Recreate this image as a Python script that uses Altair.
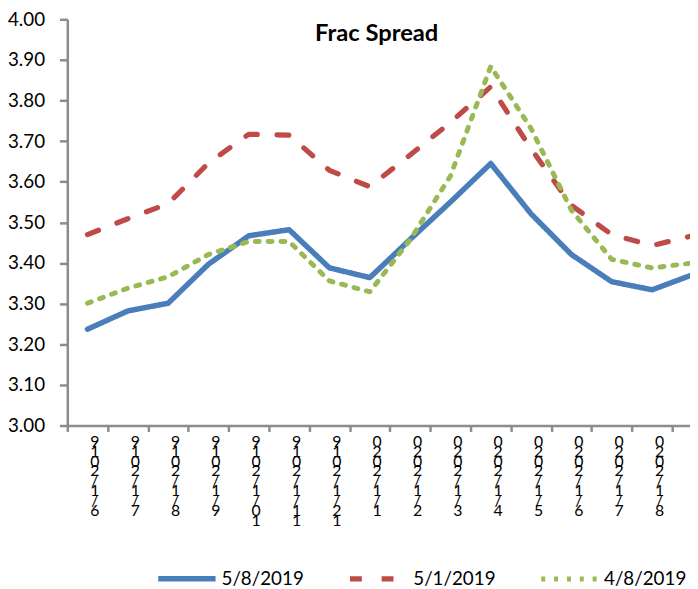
import altair as alt
import pandas as pd

months = ["6/1/2019", "7/1/2019", "8/1/2019", "9/1/2019", "10/1/2019", "11/1/2019",
          "12/1/2019", "1/1/2020", "2/1/2020", "3/1/2020", "4/1/2020", "5/1/2020",
          "6/1/2020", "7/1/2020", "8/1/2020", "9/1/2020"]
s_0508 = [3.237, 3.282, 3.301, 3.397, 3.467, 3.482, 3.388, 3.364, 3.458, 3.550,
          3.645, 3.521, 3.421, 3.354, 3.334, 3.371]
s_0501 = [3.470, 3.509, 3.546, 3.646, 3.717, 3.715, 3.628, 3.588, 3.666, 3.746,
          3.834, 3.681, 3.542, 3.470, 3.443, 3.467]
s_0408 = [3.301, 3.338, 3.366, 3.421, 3.453, 3.453, 3.356, 3.329, 3.457, 3.614,
          3.884, 3.731, 3.530, 3.409, 3.388, 3.400]
series_names = ["5/8/2019", "5/1/2019", "4/8/2019"]
series_colors = ["#4A7EBB", "#BE4B48", "#98B954"]

rows = []
for name, vals in zip(series_names, [s_0508, s_0501, s_0408]):
    for i, (m, v) in enumerate(zip(months, vals)):
        rows.append({"pos": i + 0.5, "month": m, "series": name, "value": v})
df = pd.DataFrame(rows)

# vertical (stacked, reversed) tick labels as in the original
stacked = ["|".join(list(m[::-1])) for m in months]
label_arr = "[" + ",".join("'" + s + "'" for s in stacked) + "]"

n_show = 15
band_px = 40.8
plot_w = 630
plot_h = 411
xmax = plot_w / band_px

tick_vals = [float(i) for i in range(0, n_show + 1)] + [i + 0.5 for i in range(n_show)]

x_axis = alt.Axis(
    values=tick_vals,
    labelExpr=f"datum.value % 1 == 0 ? '' : split({label_arr}[floor(datum.value)], '|')",
    labelOverlap=False, labelFlush=False, labelBound=False,
    labelFontSize=16, labelLineHeight=10, labelColor="#000000", labelFont="Lato",
    labelOffset=7, labelPadding=2, labelBaseline="top",
    tickOpacity={"condition": {"test": "datum.value % 1 == 0", "value": 1}, "value": 0},
    tickSize=6, tickWidth=2.5, tickColor="#8C8C8C",
    domainColor="#8C8C8C", domainWidth=2.5,
    grid=False, title=None,
)

y_axis = alt.Axis(
    values=[3.0 + i / 10 for i in range(11)], format=".2f",
    labelFontSize=19, labelColor="#000000", labelFont="Lato", labelPadding=15,
    tickSize=8, tickWidth=2.5, tickColor="#8C8C8C",
    domainColor="#8C8C8C", domainWidth=2.5,
    grid=True, gridColor="#FFFFFF", gridWidth=3, title=None,
)

leg = dict(title=None, orient="none", direction="horizontal",
           legendX=89, legendY=534,
           symbolType="stroke", symbolSize=3364,
           symbolStrokeWidth=5, labelFontSize=19,
           labelFont="Lato", labelColor="#000000",
           labelOffset=3, columnPadding=35)

chart = alt.Chart(df).mark_line(clip=True, strokeCap="round", strokeJoin="round").encode(
    x=alt.X("pos:Q", scale=alt.Scale(domain=[0, xmax], nice=False, zero=False), axis=x_axis),
    y=alt.Y("value:Q", scale=alt.Scale(domain=[3.0, 4.0], nice=False, zero=False), axis=y_axis),
    color=alt.Color("series:N", sort=series_names,
                    scale=alt.Scale(domain=series_names, range=series_colors),
                    legend=alt.Legend(**leg)),
    strokeDash=alt.StrokeDash("series:N", sort=series_names,
                              scale=alt.Scale(domain=series_names,
                                              range=[[1, 0], [12, 20], [4, 9]]),
                              legend=alt.Legend(**leg)),
    strokeWidth=alt.StrokeWidth("series:N", sort=series_names,
                                scale=alt.Scale(domain=series_names, range=[5.5, 5, 4.5]),
                                legend=None),
    detail="series:N",
).properties(
    width=plot_w, height=plot_h,
    title=alt.TitleParams("Frac Spread", font="Lato", fontSize=24, fontWeight="bold",
                          color="#000000", anchor="middle", offset=-55,
                          baseline="alphabetic", dx=-2),
    autosize=alt.AutoSizeParams(type="none"),
    padding={"left": 60, "top": 8, "right": 0, "bottom": 162},
).configure_view(
    fill="#E3F0E0", stroke=None
).configure(font="Lato")

chart.save("out.html", embed_options={"renderer": "svg", "actions": False})
